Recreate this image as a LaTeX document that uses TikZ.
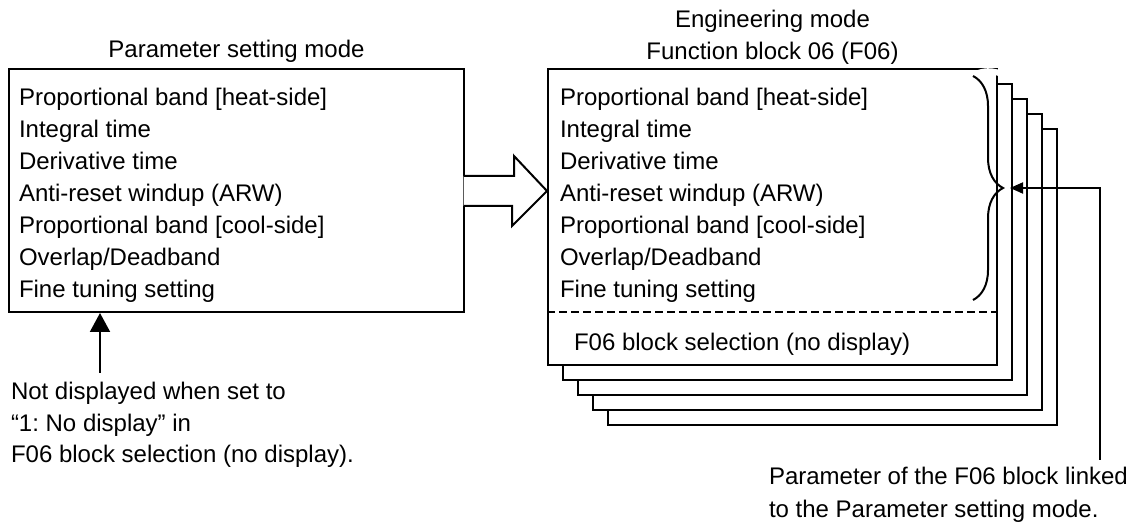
\documentclass[tikz,border=0pt]{standalone}
\usepackage{fontspec}
\setmainfont{Liberation Sans}
\usetikzlibrary{positioning,calc,arrows.meta,decorations.pathreplacing}
\frenchspacing

\tikzset{
    txt/.style={font=\fontsize{12}{16}\selectfont, inner sep=0pt, anchor=base west},
    ttl/.style={font=\fontsize{12}{16}\selectfont, inner sep=0pt, anchor=base},
    frame/.style={draw, fill=white, inner sep=0pt},
    sheet/.style={frame, minimum width=224.5pt, minimum height=148pt},
}

\begin{document}
\begin{tikzpicture}[x=0.5pt,y=-0.5pt,line width=1pt]
            \useasboundingbox (0,0) rectangle (1133,522);

            \foreach \k in {4,3,2,1}{
                \node[sheet] (sheet\k) at (772.5+15*\k,217+15*\k) {};
            }
            \node[sheet] (ebox) at (772.5,217) {};
            \node[frame, minimum width=227.5pt, minimum height=121.5pt] (psm) at (236.5,190.5) {};

            \node[ttl] (psmtitle) at (236.5,58) {Parameter setting mode};
            \node[ttl] (etitlea) at (772.5,28) {Engineering mode};
            \node[ttl] (etitleb) at (772.5,60) {Function block 06 (F06)};

            \foreach \t [count=\i] in {{Proportional band [heat-side]},{Integral time},{Derivative time},
                {Anti-reset windup (ARW)},{Proportional band [cool-side]},{Overlap/Deadband},{Fine tuning setting}}{
                \node[txt] (psm\i) at (18,74+32*\i) {\t};
                \node[txt] (eng\i) at (559,74+32*\i) {\t};
            }

            \draw[dash pattern=on 4pt off 2pt] (ebox.west |- 0,312) -- (ebox.east |- 0,312);
            \node[txt] (fsel) at (573,351) {F06 block selection (no display)};

            \coordinate (atip) at (ebox.west |- 0,191);
            \draw[fill=white] ($(psm.east |- 0,176)+(-1.5,0)$) -- (psm.east |- 0,176) -- ++(49,0) -- ++(0,-20)
                -- (atip) -- ++(-35,35) -- ++(0,-20) -- (psm.east |- 0,206) -- ++(-1.5,0);

            \coordinate (btop) at (973,76);
            \coordinate (bbot) at (973,300);
            \draw[decorate, decoration={brace, amplitude=15pt},
                preaction={draw=white, line width=3pt, decorate, decoration={brace, amplitude=15pt}}]
                (btop) -- (bbot);

            \node[txt] (ndispa) at (10,400) {Not displayed when set to};
            \node[txt] (ndispb) at (10,432) {“1: No display” in};
            \node[txt] (ndispc) at (10,463) {F06 block selection (no display).};
            \coordinate (nfoot) at (100,373);
            \draw[-{Triangle[length=9.5pt,width=10pt]}] (nfoot) -- (nfoot |- psm.south);

            \node[txt] (linka) at (768,485) {Parameter of the F06 block linked};
            \node[txt] (linkb) at (768,517) {to the Parameter setting mode.};
            \coordinate (lfoot) at (1100,460);
            \draw[-{Triangle[length=6.5pt,width=5.5pt]}] (lfoot) -- (lfoot |- 0,188) -- (1010,188);
\end{tikzpicture}
\end{document}
